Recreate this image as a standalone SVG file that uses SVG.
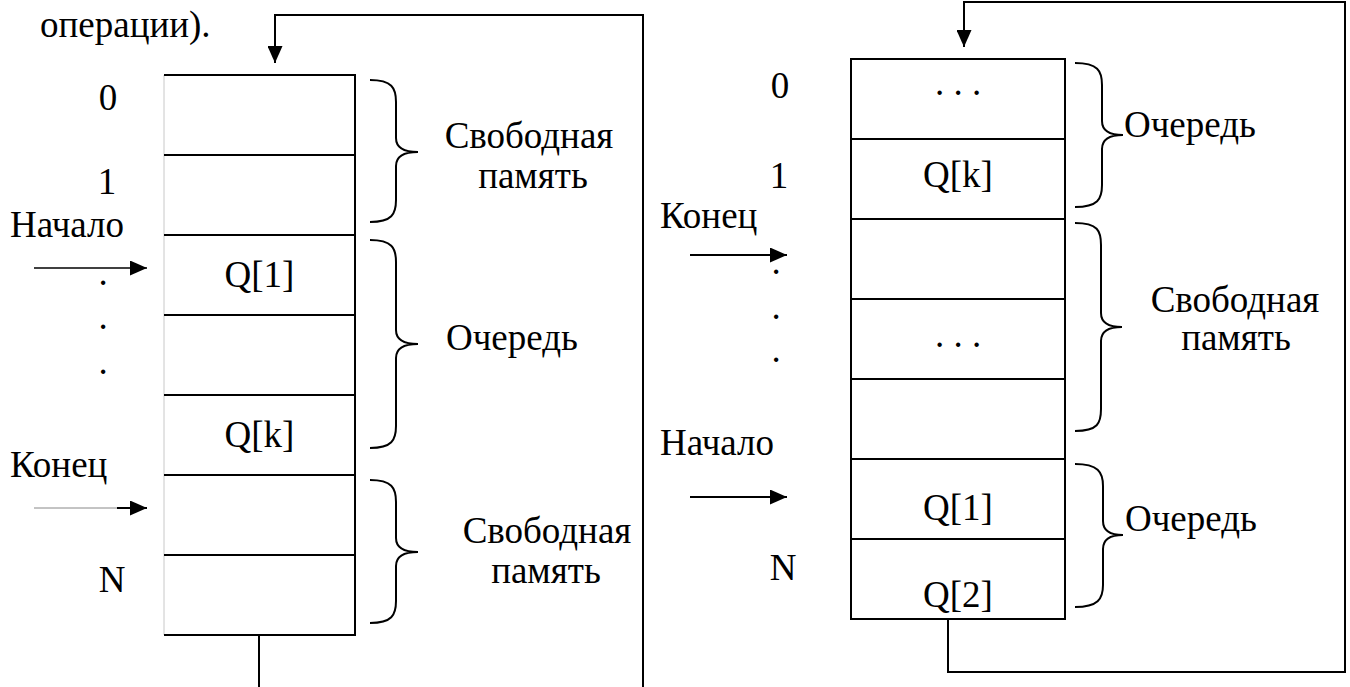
<svg xmlns="http://www.w3.org/2000/svg" width="1350" height="687" viewBox="0 0 1350 687">
  <style>
    text { font-family: "Liberation Serif", "Times New Roman", serif; font-size: 37px; fill: #000; }
    .mid { text-anchor: middle; }
    .cell { fill: none; stroke: #000; stroke-width: 2; }
    .edge { stroke: #c8c8c8; stroke-width: 1; fill: none; }
    .brace { fill: none; stroke: #000; stroke-width: 2; }
    .wire { fill: none; stroke: #000; stroke-width: 2; }
    .thin { fill: none; stroke: #000; stroke-width: 1.5; }
    .faint { fill: none; stroke: #888; stroke-width: 1; }
    .head { fill: #000; stroke: none; }
  </style>
  <defs>
    <marker id="tri" markerUnits="userSpaceOnUse" markerWidth="17" markerHeight="15" refX="17" refY="7.5" orient="auto">
      <path d="M0,0 L17,7.5 L0,15 Z" class="head"/>
    </marker>
  </defs>
  <rect width="1350" height="687" fill="#fff"/>

  <text x="40" y="37">операции).</text>

  <!-- Left array: contiguous queue -->
  <g id="left-array">
    <path class="edge" d="M164,75 V635"/>
    <path class="cell" d="M164,75 H355 V635 H164"/>
    <path class="cell" d="M164,155 H355 M164,235 H355 M164,315 H355 M164,395 H355 M164,475 H355 M164,555 H355"/>
    <text class="mid" x="259.5" y="287">Q[1]</text>
    <text class="mid" x="259.5" y="447">Q[k]</text>
  </g>

  <g id="left-indices">
    <text class="mid" x="108" y="110">0</text>
    <text class="mid" x="107" y="194">1</text>
    <text class="mid" x="103" y="285">.</text>
    <text class="mid" x="103" y="329">.</text>
    <text class="mid" x="103" y="374">.</text>
    <text class="mid" x="112" y="592">N</text>
  </g>

  <g id="left-head">
    <text x="10" y="237">Начало</text>
  </g>
  <g id="left-tail">
    <text x="10" y="477">Конец</text>
  </g>

  <g id="left-free-top">
    <path class="brace" d="M370,80 C392,80 396,88 396,102 L396,138 C396,148 404,152 418,152 C404,152 396,156 396,166 L396,200 C396,214 392,222 370,222"/>
    <text class="mid" x="529" y="148">Свободная</text>
    <text class="mid" x="533" y="188">память</text>
  </g>
  <g id="left-queue">
    <path class="brace" d="M370,240 C392,240 396,248 396,262 L396,330 C396,340 404,344 418,344 C404,344 396,348 396,358 L396,426 C396,440 392,448 370,448"/>
    <text x="446" y="350">Очередь</text>
  </g>
  <g id="left-free-bottom">
    <path class="brace" d="M370,480 C392,480 396,488 396,502 L396,538 C396,548 404,552 418,552 C404,552 396,556 396,566 L396,601 C396,615 392,623 370,623"/>
    <text class="mid" x="547" y="543">Свободная</text>
    <text class="mid" x="546" y="583">память</text>
  </g>

  <!-- Right array: wrapped (ring) queue -->
  <g id="right-array">
    <rect class="cell" x="851" y="59" width="214" height="560"/>
    <path class="cell" d="M851,139 H1065 M851,219 H1065 M851,299 H1065 M851,379 H1065 M851,459 H1065 M851,539 H1065"/>
    <text class="mid" x="958" y="95">. . .</text>
    <text class="mid" x="958" y="187">Q[k]</text>
    <text class="mid" x="958" y="347">. . .</text>
    <text class="mid" x="958" y="520">Q[1]</text>
    <text class="mid" x="958" y="607">Q[2]</text>
  </g>

  <g id="right-indices">
    <text class="mid" x="780" y="98">0</text>
    <text class="mid" x="779" y="188">1</text>
    <text class="mid" x="776" y="274">.</text>
    <text class="mid" x="776" y="319">.</text>
    <text class="mid" x="776" y="362">.</text>
    <text class="mid" x="783" y="580">N</text>
  </g>

  <g id="right-tail">
    <text x="660" y="228">Конец</text>
  </g>
  <g id="right-head">
    <text x="660" y="455">Начало</text>
  </g>

  <g id="right-queue-top">
    <path class="brace" d="M1075,63 C1098,63 1102,71 1102,85 L1102,121 C1102,131 1110,135 1123,135 C1110,135 1102,139 1102,149 L1102,185 C1102,199 1098,207 1075,207"/>
    <text x="1124" y="137">Очередь</text>
  </g>
  <g id="right-free">
    <path class="brace" d="M1075,223 C1098,223 1101,231 1101,245 L1101,313 C1101,323 1109,327 1122,327 C1109,327 1101,331 1101,341 L1101,409 C1101,423 1098,431 1075,431"/>
    <text class="mid" x="1235" y="312">Свободная</text>
    <text class="mid" x="1236" y="350">память</text>
  </g>
  <g id="right-queue-bottom">
    <path class="brace" d="M1075,464 C1098,464 1103,472 1103,486 L1103,521 C1103,531 1110,535 1123,535 C1110,535 1103,539 1103,549 L1103,585 C1103,599 1098,607 1075,607"/>
    <text x="1125" y="531">Очередь</text>
  </g>

  <!-- Connectors: pointers and wrap-around links -->
  <g id="connectors">
    <path class="thin" d="M34,268 H147" marker-end="url(#tri)"/>
    <path class="faint" d="M34,508 H118"/>
    <path class="wire" d="M117,508 H147" marker-end="url(#tri)"/>
    <path class="wire" d="M259,635 V687"/>
    <path class="wire" d="M643,687 V15 H275 V63" marker-end="url(#tri)"/>

    <path class="wire" d="M690,255 H787" marker-end="url(#tri)"/>
    <path class="wire" d="M690,497 H787" marker-end="url(#tri)"/>
    <path class="wire" d="M948,619 V672 H1345 V2 H964 V47" marker-end="url(#tri)"/>
  </g>
</svg>
